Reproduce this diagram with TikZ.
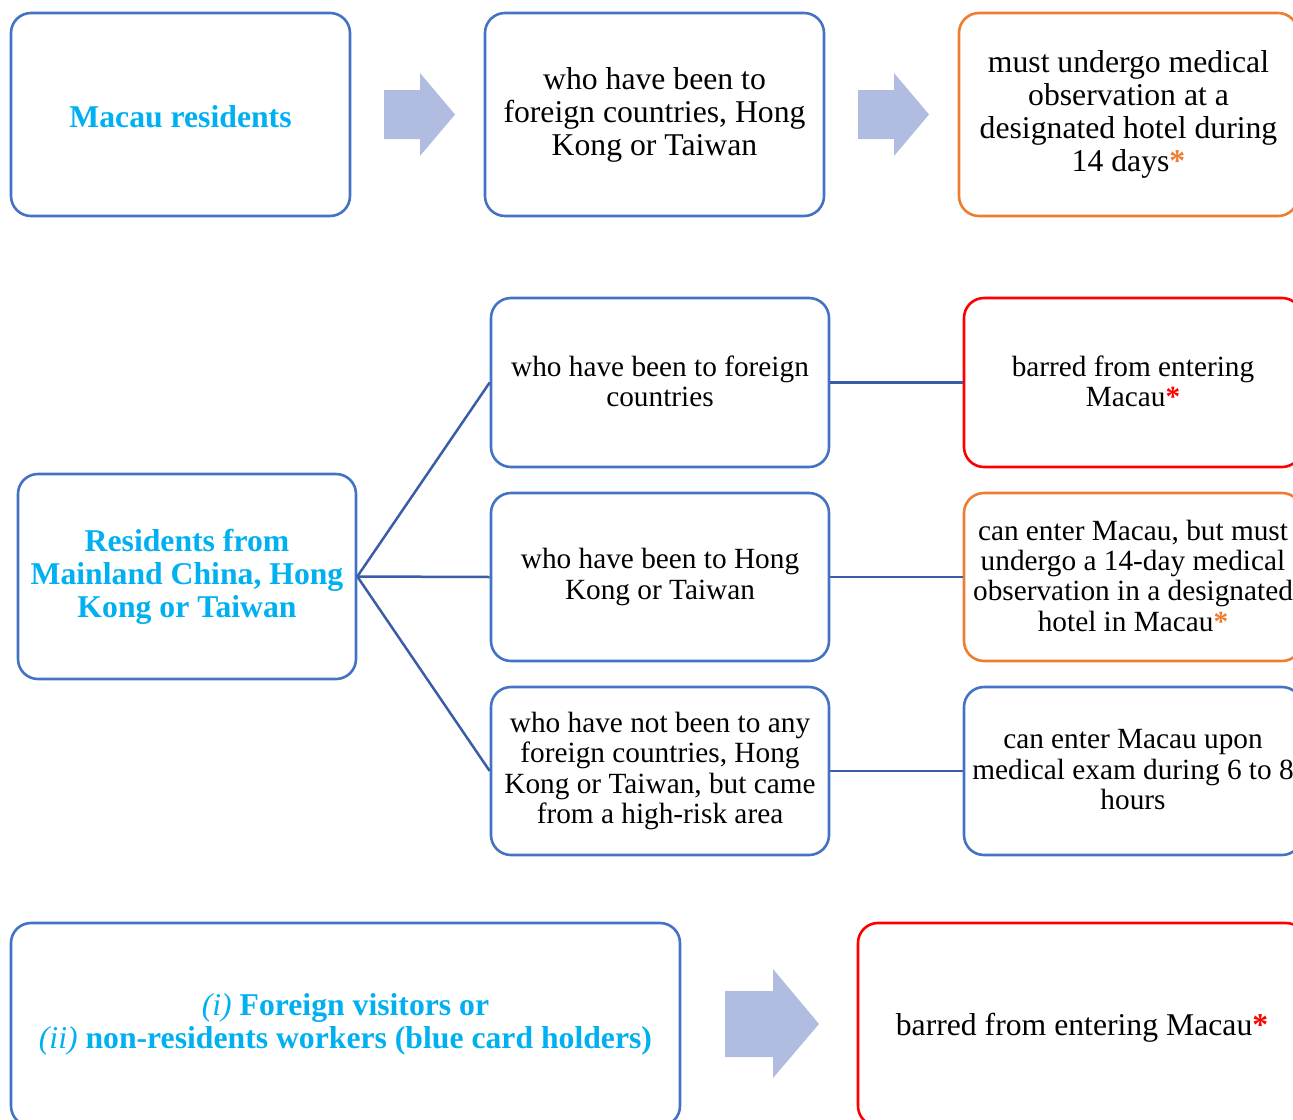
\documentclass[tikz,border=0pt]{standalone}
\usepackage{fontspec}
\setmainfont{Liberation Serif}
\definecolor{boxblue}{HTML}{4472C4}
\definecolor{lineblue}{HTML}{3A5DA8}
\definecolor{txtblue}{HTML}{00B0F0}
\definecolor{arrowfill}{HTML}{B0BCE0}
\definecolor{boxorange}{HTML}{ED7D31}
\definecolor{boxred}{HTML}{FF0000}
\newcommand\bigstrut{\rule[-3.9pt]{0pt}{33pt}}
\newcommand\midstrut{\rule[-3.1pt]{0pt}{30.3pt}}
\tikzset{
  card/.style={draw=boxblue, line width=2.6pt, rounded corners=20pt, fill=white,
    inner sep=0pt, align=center, text=black},
  bigtxt/.style={font=\fontsize{31.7}{33}\selectfont,
    execute at begin node=\bigstrut, execute at end node=\bigstrut},
  midtxt/.style={font=\fontsize{29.3}{30.3}\selectfont,
    execute at begin node=\midstrut, execute at end node=\midstrut},
  headtxt/.style={font=\fontsize{31.7}{33}\selectfont\bfseries, text=txtblue,
    execute at begin node=\bigstrut, execute at end node=\bigstrut},
  link/.style={draw=lineblue, line width=2.5pt},
  blockarrow/.style={fill=arrowfill, draw=none},
}
\begin{document}
\begin{tikzpicture}[x=1pt,y=-1pt]
\useasboundingbox (0,0) rectangle (1293,1119);
\clip (0,0) rectangle (1293,1119);

% top row
\node[card, headtxt, minimum width=339pt, minimum height=203pt] (A) at (180.5,114.5) {Macau residents};
\node[card, bigtxt, minimum width=339pt, minimum height=203pt] (B) at (654.5,114.5)
  {who have been to\\foreign countries, Hong\\Kong or Taiwan};
\node[card, bigtxt, draw=boxorange, minimum width=339pt, minimum height=203pt] (C) at (1128.5,114.5)
  {must undergo medical\\observation at a\\designated hotel during\\14 days{\color{boxorange}\textbf{*}}};

% arrows top
\fill[blockarrow] (384,90) -- (420,90) -- (420,73) -- (455,114.5) -- (420,156) -- (420,139) -- (384,139) -- cycle;
\fill[blockarrow] (858,90) -- (894,90) -- (894,73) -- (929,114.5) -- (894,156) -- (894,139) -- (858,139) -- cycle;

% middle
\node[card, headtxt, minimum width=338pt, minimum height=205pt] (D) at (187,576.5)
  {Residents from\\Mainland China, Hong\\Kong or Taiwan};
\node[card, midtxt, minimum width=338pt, minimum height=169pt] (E1) at (660,382.5)
  {who have been to foreign\\countries};
\node[card, midtxt, minimum width=338pt, minimum height=168pt] (E2) at (660,577)
  {who have been to Hong\\Kong or Taiwan};
\node[card, midtxt, minimum width=338pt, minimum height=168pt] (E3) at (660,771)
  {who have not been to any\\foreign countries, Hong\\Kong or Taiwan, but came\\from a high-risk area};
\node[card, midtxt, draw=boxred, minimum width=338pt, minimum height=169pt] (F1) at (1133,382.5)
  {barred from entering\\Macau{\color{boxred}\textbf{*}}};
\node[card, midtxt, draw=boxorange, minimum width=338pt, minimum height=168pt] (F2) at (1133,577)
  {can enter Macau, but must\\undergo a 14-day medical\\observation in a designated\\hotel in Macau{\color{boxorange}\textbf{*}}};
\node[card, midtxt, minimum width=338pt, minimum height=168pt] (F3) at (1133,771)
  {can enter Macau upon\\medical exam during 6 to 8\\hours};

\draw[link] (D.east) -- (E1.west);
\draw[link] (D.east) -- (E2.west);
\draw[link] (D.east) -- (E3.west);
\draw[link] (E1.east) -- (F1.west);
\draw[link] (E2.east) -- (F2.west);
\draw[link] (E3.east) -- (F3.west);

% bottom
\node[card, headtxt, minimum width=669pt, minimum height=203pt] (G) at (345.5,1024.5)
  {{\mdseries\itshape (i)} Foreign visitors or\\{\mdseries\itshape (ii)} non-residents workers (blue card holders)};
\node[card, bigtxt, draw=boxred, minimum width=448pt, minimum height=203pt] (H) at (1082,1024.5)
  {barred from entering Macau{\color{boxred}\textbf{*}}};
\fill[blockarrow] (725,991) -- (773,991) -- (773,969) -- (819,1024) -- (773,1078) -- (773,1057) -- (725,1057) -- cycle;
\end{tikzpicture}
\end{document}
